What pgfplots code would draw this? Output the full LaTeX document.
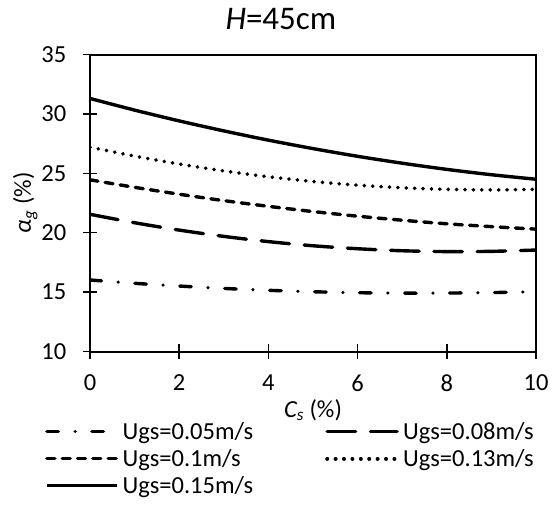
\documentclass[border=0pt]{standalone}
\usepackage{fontspec}
\setmainfont{Carlito}
\usepackage{pgfplots}
\pgfplotsset{compat=1.18}
\begin{document}
\begin{tikzpicture}
\useasboundingbox (-90bp,-160.5bp) rectangle (468bp,351.5bp);
\begin{axis}[
  at={(0,0)}, anchor=south west,
  scale only axis, width=446bp, height=297bp,
  xmin=0, xmax=10, ymin=10, ymax=35,
  xtick={0,2,...,10}, ytick={10,15,...,35},
  tick pos=left, tick align=center, major tick length=15bp,
  every tick/.style={line width=1.5bp, black},
  axis line style={line width=2bp},
  font=\fontsize{24.5bp}{29bp}\selectfont,
  /pgf/number format/assume math mode=true,
  yticklabel style={anchor=east, inner sep=0bp, xshift=-16bp},
  xticklabel style={anchor=center, inner sep=0bp, yshift=-24bp},
  title={\fontsize{33bp}{38bp}\selectfont\textit{H}=45cm},
  title style={at={(axis description cs:0.428,1.101)}, anchor=center, inner sep=0bp},
  xlabel={\textit{C\textsubscript{s}} (\%)},
  xlabel style={at={(axis description cs:0.5,-0.197)}, anchor=center, inner sep=0bp},
  ylabel={\textit{α\textsubscript{g}} (\%)},
  ylabel style={at={(axis description cs:-0.145,0.5)}, anchor=center, inner sep=0bp},
  legend columns=2,
  legend cell align=left,
  legend image code/.code={\draw[#1] (0bp,0bp) -- (70bp,0bp);},
  legend style={at={(axis description cs:-0.1009,-0.238)}, anchor=north west,
    draw=none, fill=none, inner sep=0bp, row sep=8.5bp,
    font=\fontsize{24.5bp}{29bp}\selectfont,
    nodes={inner sep=0bp},
    /tikz/every odd column/.append style={column sep=4bp},
    /tikz/every even column/.append style={column sep=72bp}},
]
\addplot[black, line width=3.4bp, line cap=round, dash pattern=on 11.5bp off 16.7bp on 0.1bp off 16.7bp, smooth] coordinates {
(0,16.02) (1,15.74) (2,15.51) (3,15.31) (4,15.15) (5,15.03) (6,14.95) (7,14.91) (8,14.92) (9,14.96) (10,15.03)};
\addlegendentry{Ugs=0.05m/s}
\addplot[black, line width=3.4bp, line cap=round, dash pattern=on 28.5bp off 14.8bp, smooth] coordinates {
(0,21.55) (1,20.84) (2,20.22) (3,19.69) (4,19.25) (5,18.90) (6,18.65) (7,18.48) (8,18.41) (9,18.43) (10,18.54)};
\addlegendentry{Ugs=0.08m/s}
\addplot[black, line width=3.4bp, line cap=round, dash pattern=on 8bp off 7.3bp, smooth] coordinates {
(0,24.45) (1,23.82) (2,23.24) (3,22.70) (4,22.22) (5,21.78) (6,21.39) (7,21.05) (8,20.75) (9,20.51) (10,20.30)};
\addlegendentry{Ugs=0.1m/s}
\addplot[black, line width=3.9bp, line cap=round, dash pattern=on 0.1bp off 8.3bp, smooth] coordinates {
(0,27.20) (1,26.45) (2,25.78) (3,25.20) (4,24.71) (5,24.31) (6,24.00) (7,23.78) (8,23.65) (9,23.60) (10,23.65)};
\addlegendentry{Ugs=0.13m/s}
\addplot[black, line width=3.4bp, smooth] coordinates {
(0,31.30) (1,30.32) (2,29.41) (3,28.57) (4,27.79) (5,27.08) (6,26.43) (7,25.85) (8,25.33) (9,24.88) (10,24.50)};
\addlegendentry{Ugs=0.15m/s}
\end{axis}
\end{tikzpicture}
\end{document}
